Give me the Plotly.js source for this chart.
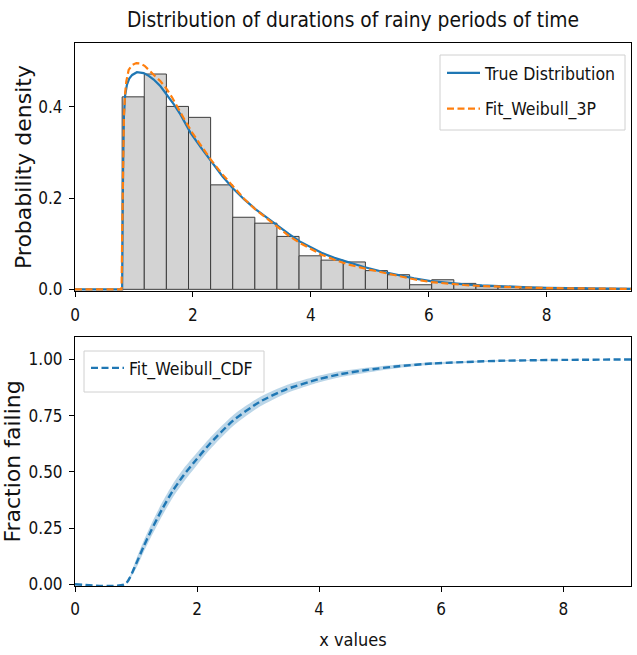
<!DOCTYPE html>
<html><head><meta charset="utf-8">
<script src="https://cdn.plot.ly/plotly-3.0.1.min.js"></script>
<style>html,body{margin:0;padding:0;background:#fff}#chart{width:637px;height:655px}</style>
</head><body><div id="chart"></div>
<script>
// ---- data ----
const histBinStart = 0.80;
const histBinWidth = 0.375;
const histDensity = [0.422, 0.472, 0.401, 0.377, 0.229, 0.158, 0.145, 0.116, 0.0735, 0.064,
                     0.060, 0.041, 0.032, 0.010, 0.021, 0.013, 0.006, 0.005, 0.003, 0.004,
                     0.003, 0.002, 0.002];

const trueX = [0, 0.80, 0.815, 0.83, 0.85, 0.88, 0.92, 0.97, 1.05, 1.165, 1.25, 1.335, 1.45, 1.56, 1.68, 1.79,
               1.96, 2.14, 2.32, 2.5, 2.69, 2.87, 3.06, 3.25, 3.43, 3.62, 3.81, 4.0, 4.18, 4.4, 4.62, 4.9,
               5.2, 5.47, 5.75, 6.03, 6.3, 6.6, 6.9, 7.16, 7.6, 8.0, 8.7, 9.43];
const trueY = [0, 0, 0.26, 0.38, 0.425, 0.448, 0.462, 0.470, 0.476, 0.474, 0.468, 0.46, 0.445, 0.427, 0.405, 0.383,
               0.343, 0.31, 0.278, 0.248, 0.22, 0.197, 0.176, 0.157, 0.14, 0.122, 0.105, 0.092, 0.08, 0.069, 0.06, 0.049,
               0.039, 0.031, 0.024, 0.018, 0.014, 0.011, 0.0085, 0.0068, 0.005, 0.0035, 0.002, 0.0012];

const fitX = [0, 0.79, 0.80, 0.81, 0.83, 0.85, 0.87, 0.91, 0.97, 1.04, 1.10, 1.18, 1.28, 1.36, 1.45, 1.55, 1.65, 1.84, 1.99,
              2.15, 2.3, 2.5, 2.7, 2.88, 3.06, 3.25, 3.43, 3.62, 3.81, 4.0, 4.18, 4.4, 4.62, 5.0, 5.47, 5.75, 6.03, 6.3, 6.6,
              6.9, 7.16, 7.6, 8.0, 8.7, 9.43];
const fitY = [0, 0, 0.12, 0.25, 0.38, 0.43, 0.456, 0.481, 0.492, 0.496, 0.495, 0.49, 0.478, 0.468, 0.456, 0.44, 0.42, 0.376, 0.343,
              0.313, 0.285, 0.252, 0.222, 0.197, 0.175, 0.155, 0.136, 0.118, 0.102, 0.088, 0.076, 0.065, 0.055, 0.043, 0.029, 0.022, 0.016, 0.0125, 0.0095,
              0.0072, 0.0055, 0.004, 0.0028, 0.0015, 0.0008];

const cdfX = [0, 0.82, 1.0, 1.12, 1.25, 1.42, 1.6, 1.78, 1.99, 2.21, 2.59, 3.03, 3.46, 3.99, 4.34,
              4.77, 5.3, 5.86, 6.95, 8.0, 9.11];
const cdfY = [0, 0, 0.09, 0.165, 0.24, 0.33, 0.415, 0.485, 0.555, 0.625, 0.728, 0.812, 0.867, 0.912, 0.934,
              0.953, 0.970, 0.982, 0.994, 0.998, 1.0];
const cdfLower = [0, 0, 0.07, 0.14, 0.212, 0.30, 0.385, 0.455, 0.527, 0.599, 0.704, 0.791, 0.849, 0.897, 0.921,
                  0.941, 0.962, 0.976, 0.991, 0.997, 0.9995];
const cdfUpper = [0, 0, 0.11, 0.19, 0.268, 0.36, 0.445, 0.515, 0.583, 0.651, 0.752, 0.833, 0.885, 0.927, 0.947,
                  0.963, 0.978, 0.988, 0.997, 0.999, 1.0];

const xTickVals = [0, 2, 4, 6, 8];
const topYTicks = [0, 0.2, 0.4];
const botYTicks = [0, 0.25, 0.5, 0.75, 1.0];

const titleText = 'Distribution of durations of rainy periods of time';
const topYTitle = 'Probability density';
const botYTitle = 'Fraction failing';
const botXTitle = 'x values';

// ---- derived ----
const histCenters = histDensity.map((_, i) => histBinStart + (i + 0.5) * histBinWidth);

const FONT = 'DejaVu Sans Condensed, DejaVu Sans, sans-serif';
const TXT = '#111';
const BLUE = '#1f77b4', ORANGE = '#ff7f0e';

const traces = [
  { type: 'bar', x: histCenters, y: histDensity, width: histBinWidth,
    marker: { color: '#d3d3d3', line: { color: '#3c3c3c', width: 1 } },
    xaxis: 'x', yaxis: 'y', showlegend: false, hoverinfo: 'skip' },
  { type: 'scatter', mode: 'lines', x: trueX, y: trueY, name: 'True Distribution',
    line: { color: BLUE, width: 2.2 },
    xaxis: 'x', yaxis: 'y', legend: 'legend', legendgroup: 'a' },
  { type: 'scatter', mode: 'lines', x: fitX, y: fitY, name: 'Fit_Weibull_3P',
    line: { color: ORANGE, width: 2.2, dash: '7px,3.5px' },
    xaxis: 'x', yaxis: 'y', legend: 'legend', legendgroup: 'b' },
  { type: 'scatter', mode: 'lines', x: cdfX, y: cdfLower, line: { width: 0, shape: 'spline', smoothing: 0.6 },
    xaxis: 'x2', yaxis: 'y2', showlegend: false, hoverinfo: 'skip' },
  { type: 'scatter', mode: 'lines', x: cdfX, y: cdfUpper, line: { width: 0, shape: 'spline', smoothing: 0.6 },
    fill: 'tonexty', fillcolor: 'rgba(31,119,180,0.3)',
    xaxis: 'x2', yaxis: 'y2', showlegend: false, hoverinfo: 'skip' },
  { type: 'scatter', mode: 'lines', x: cdfX, y: cdfY, name: 'Fit_Weibull_CDF',
    line: { color: BLUE, width: 2.4, dash: '7px,3.5px', shape: 'spline', smoothing: 0.6 },
    xaxis: 'x2', yaxis: 'y2', legend: 'legend2' }
];

const axisCommon = {
  showline: true, mirror: true, linecolor: '#000', linewidth: 1,
  ticks: 'outside', ticklen: 5, tickwidth: 1, tickcolor: '#000',
  showgrid: false, zeroline: false, layer: 'below traces',
  tickfont: { family: FONT, size: 17, color: TXT },
  ticklabelstandoff: 3
};

const layout = {
  width: 637, height: 655,
  margin: { l: 75, r: 6, t: 43, b: 69 },
  paper_bgcolor: '#fff', plot_bgcolor: '#fff',
  bargap: 0,
  title: { text: titleText, font: { family: FONT, size: 20.8, color: TXT },
           x: 0.5, xref: 'paper', xanchor: 'center', y: 1 - 20 / 655, yref: 'container', yanchor: 'middle' },
  xaxis: Object.assign({}, axisCommon, { domain: [0, 1], range: [0, 9.43], anchor: 'y', tickvals: xTickVals }),
  yaxis: Object.assign({}, axisCommon, { domain: [0.543, 1], range: [-0.004, 0.54], anchor: 'x', tickvals: topYTicks,
           tickformat: '.1f',
           title: { text: topYTitle, font: { family: 'DejaVu Sans, sans-serif', size: 22, color: TXT }, standoff: 0 } }),
  xaxis2: Object.assign({}, axisCommon, { domain: [0, 1], range: [0, 9.11], anchor: 'y2', tickvals: xTickVals,
           title: { text: botXTitle, font: { family: FONT, size: 18, color: TXT }, standoff: 14 } }),
  yaxis2: Object.assign({}, axisCommon, { domain: [0, 0.4586], range: [-0.008, 1.1], anchor: 'x2', tickvals: botYTicks,
           tickformat: '.2f',
           title: { text: botYTitle, font: { family: 'DejaVu Sans, sans-serif', size: 22, color: TXT }, standoff: 2 } }),
  legend: { x: (442 - 75) / 556, xanchor: 'left', y: (586 - 55) / 543, yanchor: 'top',
            bgcolor: 'rgba(0,0,0,0)', borderwidth: 0, tracegroupgap: 10, itemwidth: 33,
            font: { family: FONT, size: 17.5, color: TXT } },
  legend2: { x: (86 - 75) / 556, xanchor: 'left', y: (586 - 350) / 543, yanchor: 'top',
             bgcolor: 'rgba(0,0,0,0)', borderwidth: 0, itemwidth: 33,
             font: { family: FONT, size: 17.5, color: TXT } },
  shapes: [
    { type: 'rect', xref: 'paper', yref: 'paper', x0: (440 - 75) / 556, x1: (625 - 75) / 556,
      y0: (586 - 130) / 543, y1: (586 - 55) / 543, line: { color: '#d0d0d0', width: 1 },
      fillcolor: 'rgba(255,255,255,0.8)', layer: 'above' },
    { type: 'rect', xref: 'paper', yref: 'paper', x0: (84 - 75) / 556, x1: (264 - 75) / 556,
      y0: (586 - 392) / 543, y1: (586 - 351) / 543, line: { color: '#d0d0d0', width: 1 },
      fillcolor: 'rgba(255,255,255,0.8)', layer: 'above' }
  ]
};

Plotly.newPlot('chart', traces, layout, { staticPlot: true, displayModeBar: false });
</script>
</body></html>
